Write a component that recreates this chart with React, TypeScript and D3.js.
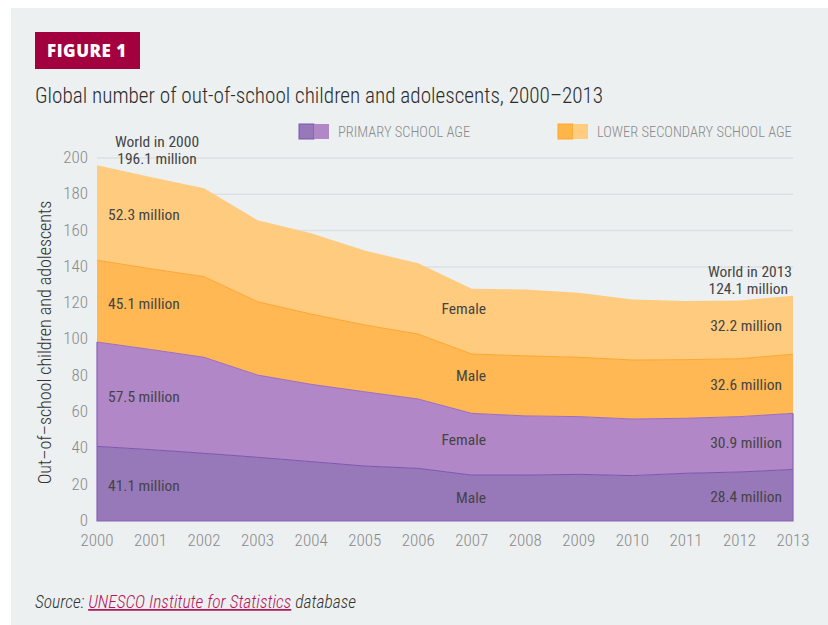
import React, { useEffect, useRef } from 'react';
import * as d3 from 'd3';

// Values in millions
const years = [2000, 2001, 2002, 2003, 2004, 2005, 2006, 2007, 2008, 2009, 2010, 2011, 2012, 2013];
const primaryMale = [41.1, 39.3, 37.3, 35.1, 32.7, 30.3, 29.0, 25.3, 25.3, 25.7, 25.0, 26.3, 27.0, 28.4];
const primaryFemale = [57.5, 55.2, 52.9, 45.3, 42.6, 40.9, 38.2, 34.0, 32.6, 31.8, 31.2, 30.3, 30.5, 30.9];
const lowerSecMale = [45.1, 44.5, 44.4, 40.4, 38.7, 36.8, 35.8, 32.7, 33.1, 32.7, 32.5, 32.3, 31.9, 32.6];
const lowerSecFemale = [52.3, 50.5, 48.8, 44.9, 44.6, 41.0, 39.0, 36.0, 36.6, 35.6, 33.3, 32.3, 32.1, 32.2];
const yTicks = [0, 20, 40, 60, 80, 100, 120, 140, 160, 180, 200];

const layers = [
  { key: 'pm', values: primaryMale, fill: '#9779ba', stroke: '#7d55b0' },
  { key: 'pf', values: primaryFemale, fill: '#b187c7', stroke: '#9d6cc2' },
  { key: 'lm', values: lowerSecMale, fill: '#ffb853', stroke: '#ffa62e' },
  { key: 'lf', values: lowerSecFemale, fill: '#ffcb7f', stroke: '#ffc570' },
];

const FONT = "'Roboto Condensed', 'Liberation Sans Narrow', Lato, sans-serif";

const App: React.FC = () => {
  const svgRef = useRef<SVGSVGElement>(null);

  useEffect(() => {
    if (!svgRef.current) return;
    const svg = d3.select(svgRef.current);
    svg.selectAll('*').remove();

    const W = 828, H = 625;
    const x = d3.scaleLinear().domain([2000, 2013]).range([97, 793]);
    const y = d3.scaleLinear().domain([0, 200]).range([521, 158]);

    // background panel
    svg.append('rect').attr('x', 0).attr('y', 0).attr('width', W).attr('height', H).attr('fill', '#fff');
    svg.append('rect').attr('x', 11).attr('y', 8).attr('width', W - 11).attr('height', H - 8).attr('fill', '#ecf0f1');

    // figure tag
    svg.append('rect').attr('x', 35).attr('y', 32).attr('width', 105).attr('height', 37).attr('fill', '#a3003f');
    svg.append('text').attr('x', 47).attr('y', 56.5).attr('fill', '#fff')
      .style('font-family', "'Open Sans', Lato, sans-serif").style('font-weight', 800)
      .style('font-size', '17px').style('letter-spacing', '0.5px').text('FIGURE 1');

    // title
    svg.append('text').attr('x', 35).attr('y', 103).attr('fill', '#2b2b2b')
      .style('font-family', FONT).style('font-size', '21.2px').style('font-weight', 300)
      .text('Global number of out-of-school children and adolescents, 2000\u20132013');

    // legend
    const legend = [
      { label: 'PRIMARY SCHOOL AGE', x: 299, dark: '#9779ba', light: '#b187c7', border: '#7d55b0' },
      { label: 'LOWER SECONDARY SCHOOL AGE', x: 558, dark: '#ffb648', light: '#ffcc80', border: '#ffa62b' },
    ];
    legend.forEach(l => {
      svg.append('rect').attr('x', l.x).attr('y', 124).attr('width', 15).attr('height', 15).attr('fill', l.dark)
        .attr('stroke', l.border).attr('stroke-width', 1);
      svg.append('rect').attr('x', l.x + 15).attr('y', 124).attr('width', 15).attr('height', 15).attr('fill', l.light);
      svg.append('text').attr('x', l.x + 39).attr('y', 137).attr('fill', '#8a8a8a')
        .style('font-family', FONT).style('font-size', '14.5px').style('font-weight', 300).text(l.label);
    });

    // gridlines
    svg.append('g').selectAll('line').data(yTicks.filter(t => t > 0)).enter().append('line')
      .attr('x1', x(2000)).attr('x2', x(2013))
      .attr('y1', d => y(d)).attr('y2', d => y(d))
      .attr('stroke', '#dce1e3').attr('stroke-width', 1.5);

    // stacked areas
    const rows = years.map((yr, i) => ({
      year: yr, pm: primaryMale[i], pf: primaryFemale[i], lm: lowerSecMale[i], lf: lowerSecFemale[i],
    }));
    const stack = d3.stack<any>().keys(layers.map(l => l.key));
    const series = stack(rows);
    const area = d3.area<any>()
      .x(d => x(d.data.year))
      .y0(d => y(d[0]))
      .y1(d => y(d[1]));
    const topLine = d3.line<any>().x(d => x(d.data.year)).y(d => y(d[1]));

    series.forEach((s, i) => {
      svg.append('path').attr('d', area(s) as string).attr('fill', layers[i].fill);
    });
    series.forEach((s, i) => {
      if (i < 3) {
        svg.append('path').attr('d', topLine(s) as string).attr('fill', 'none')
          .attr('stroke', layers[i].stroke).attr('stroke-width', 1);
      }
    });
    // purple border on left, bottom and right of the primary layers
    const primaryTop = series[1];
    svg.append('path')
      .attr('d', `M${x(2000)},${y(primaryTop[0][1])}L${x(2000)},${y(0)}L${x(2013)},${y(0)}L${x(2013)},${y(primaryTop[13][1])}`)
      .attr('fill', 'none').attr('stroke', '#8a62b8').attr('stroke-width', 1.2);

    // y axis labels
    svg.append('g').selectAll('text').data(yTicks).enter().append('text')
      .attr('x', 88).attr('y', d => y(d) - 1).attr('dy', '0.35em').attr('text-anchor', 'end')
      .attr('fill', '#8a8a8a').style('font-family', FONT).style('font-size', '17px').style('font-weight', 300)
      .text(d => d);

    // x axis labels
    svg.append('g').selectAll('text').data(years).enter().append('text')
      .attr('x', d => x(d)).attr('y', 546).attr('text-anchor', 'middle')
      .attr('fill', '#8a8a8a').style('font-family', FONT).style('font-size', '17px').style('font-weight', 300)
      .text(d => d);

    // y axis title
    svg.append('text')
      .attr('transform', `translate(51,${(y(0) + y(200)) / 2 + 3}) rotate(-90)`)
      .attr('text-anchor', 'middle').attr('fill', '#333')
      .style('font-family', FONT).style('font-size', '18px').style('font-weight', 300)
      .text('Out\u2013of\u2013school children and adolescents');

    const label = (tx: number, ty: number, text: string, anchor = 'start', dy = '0.35em') =>
      svg.append('text').attr('x', tx).attr('y', ty).attr('dy', dy).attr('text-anchor', anchor)
        .attr('fill', '#444').style('font-family', FONT).style('font-size', '15.5px').style('font-weight', 400)
        .text(text);

    // start and end labels, at the middle of each layer
    const first = series.map(s => (s[0][0] + s[0][1]) / 2);
    const last = series.map(s => (s[13][0] + s[13][1]) / 2);
    const startText = ['41.1 million', '57.5 million', '45.1 million', '52.3 million'];
    const endText = ['28.4 million', '30.9 million', '32.6 million', '32.2 million'];
    first.forEach((v, i) => label(108, y(v) + 2, startText[i]));
    last.forEach((v, i) => label(782, y(v) + 1, endText[i], 'end'));

    label(157, 147, 'World in 2000', 'middle', '0');
    label(157, 164, '196.1 million', 'middle', '0');
    label(792, 277, 'World in 2013', 'end', '0');
    label(788, 294, '124.1 million', 'end', '0');

    // sex labels near 2007
    label(486, y(117), 'Female', 'end');
    label(486, y(80), 'Male', 'end');
    label(486, y(45), 'Female', 'end');
    label(486, y(13), 'Male', 'end');

    // source
    const src = svg.append('text').attr('x', 35).attr('y', 608)
      .style('font-family', FONT).style('font-size', '17.5px').style('font-style', 'italic')
      .style('font-weight', 300).attr('fill', '#333');
    src.append('tspan').text('Source: ');
    src.append('tspan').attr('fill', '#b5175a').style('text-decoration', 'underline')
      .text('UNESCO Institute for Statistics');
    src.append('tspan').text(' database');
  }, []);

  return (
    <svg ref={svgRef} width={828} height={625}
      style={{ position: 'absolute', left: 0, top: 0, display: 'block' }} />
  );
};

export default App;
